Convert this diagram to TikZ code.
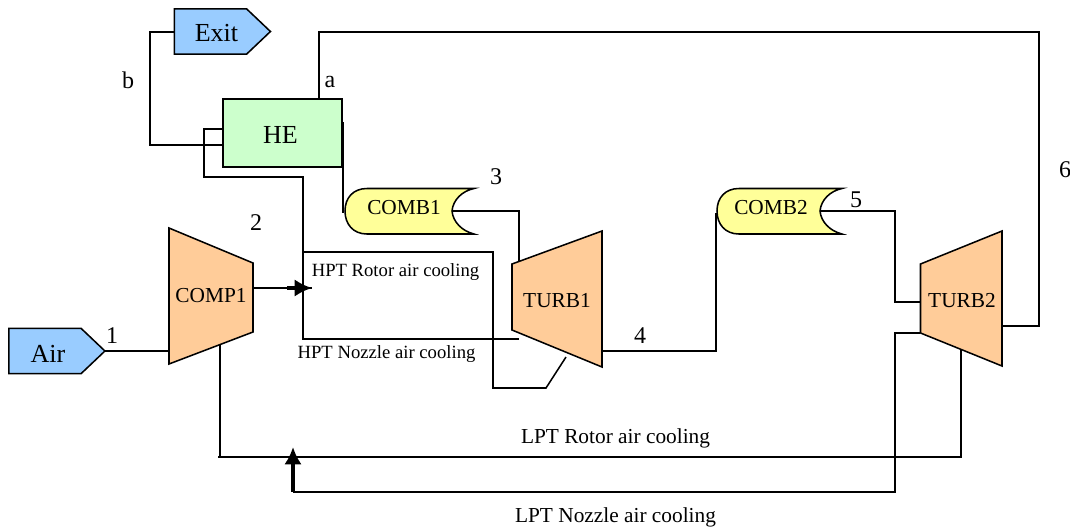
\documentclass[tikz,border=0pt]{standalone}
\usepackage{fontspec}
\setmainfont{Liberation Serif}
\usetikzlibrary{arrows.meta,shapes.symbols}
\definecolor{airblue}{HTML}{99CCFF}
\definecolor{hegreen}{HTML}{CCFFCC}
\definecolor{combyellow}{HTML}{FFFF99}
\definecolor{turborange}{HTML}{FFCC99}
\tikzset{
	pipe/.style={line width=1.15pt},
	port/.style={signal, signal to=east, signal pointer angle=87, draw=black, fill=airblue, line width=1.15pt, inner sep=0pt, minimum width=72pt, minimum height=34pt, font=\fontsize{19.5}{20}\selectfont},
	machine/.style={draw=black, fill=turborange, line width=1.15pt},
	machinetext/.style={font=\fontsize{16}{18}\selectfont},
	statept/.style={font=\fontsize{18}{20}\selectfont},
	coolingtext/.style={font=\fontsize{16}{18}\selectfont},
	bigtip/.style={-{Latex[length=13pt,width=13pt]}, line width=2.4pt}
}
\begin{document}
\begin{tikzpicture}[x=.75pt, y=-.75pt]
\useasboundingbox (0,0) rectangle (1070,529);
%connection points
\coordinate (air out) at (105,351);
\coordinate (comp1 in) at (169,351);
\coordinate (comp1 out) at (253,288);
\coordinate (comp1 bleed) at (220,344);
\coordinate (bleed tip) at (312,288);
\coordinate (bleed thick) at (287,288);
\coordinate (he a) at (319,99);
\coordinate (he b) at (223,145);
\coordinate (he in) at (223,129);
\coordinate (he out) at (343,122);
\coordinate (comb1 in) at (343,213);
\coordinate (comb1 out) at (452,211);
\coordinate (turb1 in) at (519,261);
\coordinate (turb1 nozzle) at (519,339);
\coordinate (turb1 rotor) at (566,357);
\coordinate (turb1 out) at (602,351);
\coordinate (comb2 in) at (716,213);
\coordinate (comb2 out) at (821,211);
\coordinate (turb2 in) at (920,302);
\coordinate (turb2 nozzle) at (920,333);
\coordinate (turb2 out) at (1002,326);
\coordinate (turb2 rotor) at (961,350);
\coordinate (exit in) at (174,32);
\coordinate (hpt) at (303,252);
\coordinate (hpt low) at (303,339);
\coordinate (rotor drop) at (493,388);
\coordinate (rotor bend) at (546,388);
\coordinate (lpt left) at (218,457);
\coordinate (lpt right) at (961,457);
\coordinate (lpt tip) at (293,447);
\coordinate (lpt foot) at (293,492);
%pipes
\draw[pipe] (air out) -- (comp1 in);
\draw[pipe] (comp1 out) -- (bleed tip);
\draw[bigtip] (bleed thick) -- (bleed tip);
\draw[pipe] (exit in) -| (150,145) -- (he b);
\draw[pipe] (he in) -| (204,177) -| (hpt low);
\draw[pipe] (hpt) -- (493,252) -- (rotor drop) -- (rotor bend) -- (turb1 rotor);
\draw[pipe] (hpt) -- (hpt low) -- (turb1 nozzle);
\draw[pipe] (he a) |- (1039,32) |- (turb2 out);
\draw[pipe] (he out) -- (comb1 in);
\draw[pipe] (comb1 out) -| (turb1 in);
\draw[pipe] (turb1 out) -| (comb2 in);
\draw[pipe] (comb2 out) -| (895,302) -- (turb2 in);
\draw[pipe] (comp1 bleed) -- (220,457);
\draw[pipe] (lpt left) -- (lpt right) -- (turb2 rotor);
\draw[pipe] (turb2 nozzle) -| (895,492) -- (lpt foot);
\draw[bigtip] (lpt foot) -- (lpt tip);
%boxes
\node[port] (exit) at (210.5,31.5) {\hspace{9pt}\rule{0pt}{14.5pt}Exit};
\node[port] (air) at (45,351) {\hspace{4.5pt}\rule{0pt}{16.5pt}Air};
\node[draw, fill=hegreen, line width=1.15pt, minimum width=89pt, minimum height=51pt, inner sep=0pt, font=\fontsize{19.5}{20}\selectfont] (he) at (282.5,133) {\hspace{-3pt}\rule{0pt}{16pt}HE};
%combustors
\foreach \name/\nm/\x/\w/\t in {COMB1/comb1/345/129/59, COMB2/comb2/717/125/54}{
\filldraw[fill=combyellow, draw=black, line width=1.15pt] (\x+22,188.5) -- (\x+\w,188.5)
	.. controls (\x+\w-12,191) and (\x+\w-21,200) .. (\x+\w-22,211)
	.. controls (\x+\w-21,222) and (\x+\w-12,231) .. (\x+\w,234)
	-- (\x+22,234)
	.. controls (\x+8,234) and (\x,224) .. (\x,211)
	.. controls (\x,198) and (\x+8,188.5) .. (\x+22,188.5);
\node[machinetext] (\nm) at (\x+\t,208) {\name};
}
%compressor and turbines
\filldraw[machine] (169,228) -- (253,263) -- (253,332) -- (169,364) -- cycle;
\filldraw[machine] (512,264) -- (602,231) -- (602,367) -- (512,330) -- cycle;
\filldraw[machine] (920.5,264) -- (1002,231) -- (1002,366) -- (920.5,333) -- cycle;
\node[machinetext] (comp1) at (211,296) {COMP1};
\node[machinetext] (turb1) at (557,301) {TURB1};
\node[machinetext] (turb2) at (962,301) {TURB2};
%state points
\node[statept] (pt1) at (112,336) {1};
\node[statept] (pt2) at (256,223) {2};
\node[statept] (pt3) at (496,177) {3};
\node[statept] (pt4) at (640,336) {4};
\node[statept] (pt5) at (856,200) {5};
\node[statept] (pt6) at (1065,170) {6};
\node[statept] (pta) at (330,82) {a};
\node[statept] (ptb) at (128,80) {b};
%labels
\node[font=\fontsize{14}{16}\selectfont] (hpt rotor) at (395.5,272) {HPT Rotor air cooling};
\node[font=\fontsize{14}{16}\selectfont] (hpt nozzle) at (386.5,354) {HPT Nozzle air cooling};
\node[coolingtext] (lpt rotor) at (615.5,438) {LPT Rotor air cooling};
\node[coolingtext] (lpt nozzle) at (615.5,517) {LPT Nozzle air cooling};
\end{tikzpicture}
\end{document}
